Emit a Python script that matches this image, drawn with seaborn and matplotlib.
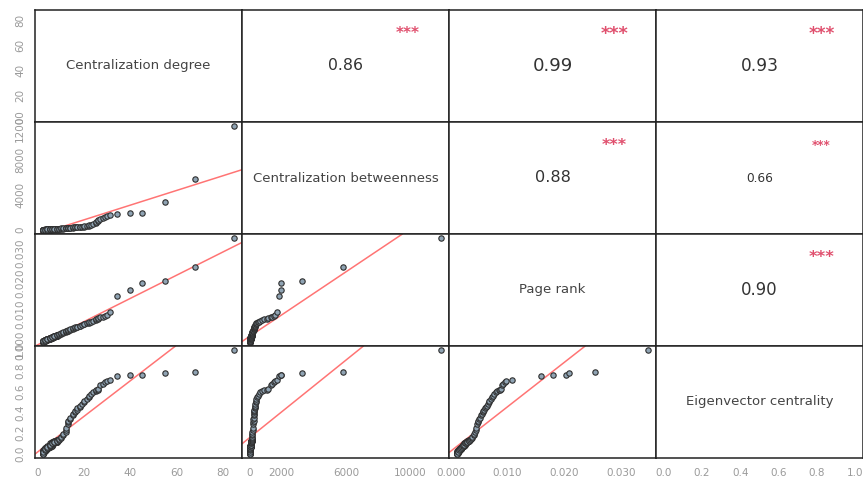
import numpy as np
import pandas as pd
import matplotlib
matplotlib.use('Agg')
import matplotlib.pyplot as plt
import seaborn as sns

# centrality measures per node
# the low degree nodes overlap in the dense blob near the origin
degree = ([2] * 14 + [3] * 14 + [4] * 12 + [5] * 12 + [6] * 10 + [7] * 9 + [8] * 9 +
          [2, 2, 3, 3, 4, 4, 5, 5, 5, 6, 6, 7, 7, 8, 8, 9, 9, 10, 10, 11, 11,
           12, 12, 12, 13, 13, 13, 14, 14, 15, 15, 16, 16, 17, 17, 18, 18, 19,
           20, 20, 21, 22, 22, 23, 24, 25, 25, 26, 26, 27, 28, 29, 30,
           31, 34, 40, 45, 55, 68, 85])
betweenness = [0, 5, 10, 0, 15, 20, 5, 30, 10, 0, 25, 12, 8, 18,
               10, 20, 35, 15, 25, 40, 5, 30, 45, 20, 12, 28, 38, 18,
               20, 35, 50, 25, 60, 40, 15, 55, 30, 45, 65, 38,
               30, 50, 70, 40, 85, 60, 25, 75, 45, 90, 55, 65,
               45, 65, 90, 55, 100, 75, 40, 85, 110, 60,
               60, 80, 105, 70, 120, 90, 55, 100, 130,
               75, 95, 120, 85, 140, 105, 70, 115, 150,
               10, 25, 15, 40, 30, 55, 45, 60, 80, 70, 95, 85, 110, 100, 125,
               120, 140, 135, 160, 150, 175, 170, 190, 210, 200, 225, 245, 235,
               260, 255, 280, 275, 300, 295, 320, 315, 340, 350, 370, 400, 420,
               470, 520, 580, 650, 760, 880, 1070, 1160, 1300, 1400, 1500, 1600,
               1700, 1830, 1940, 1960, 3260, 5850, 11950]
pagerank = [0.0010, 0.0011, 0.0012, 0.0010, 0.0011, 0.0013, 0.0012, 0.0013,
            0.0011, 0.0010, 0.0012, 0.0011, 0.0012, 0.0013,
            0.0014, 0.0015, 0.0016, 0.0014, 0.0015, 0.0016, 0.0014, 0.0015,
            0.0017, 0.0015, 0.0014, 0.0016, 0.0016, 0.0015,
            0.0017, 0.0018, 0.0019, 0.0017, 0.0019, 0.0018, 0.0017, 0.0019,
            0.0018, 0.0018, 0.0020, 0.0018,
            0.0020, 0.0021, 0.0022, 0.0020, 0.0023, 0.0021, 0.0020, 0.0022,
            0.0021, 0.0023, 0.0021, 0.0022,
            0.0023, 0.0024, 0.0025, 0.0023, 0.0026, 0.0024, 0.0023, 0.0025,
            0.0026, 0.0024,
            0.0026, 0.0027, 0.0028, 0.0026, 0.0029, 0.0027, 0.0026, 0.0028, 0.0029,
            0.0029, 0.0030, 0.0031, 0.0029, 0.0032, 0.0030, 0.0029, 0.0031, 0.0032,
            0.0010, 0.0013, 0.0014, 0.0016, 0.0018, 0.0019, 0.0021, 0.0022,
            0.0023, 0.0025, 0.0026, 0.0028, 0.0029, 0.0031, 0.0032, 0.0034,
            0.0035, 0.0037, 0.0038, 0.0040, 0.0041, 0.0043, 0.0044, 0.0045,
            0.0046, 0.0047, 0.0048, 0.0050, 0.0051, 0.0053, 0.0054, 0.0056,
            0.0057, 0.0059, 0.0060, 0.0062, 0.0063, 0.0065, 0.0067, 0.0068,
            0.0070, 0.0073, 0.0074, 0.0076, 0.0079, 0.0082, 0.0084, 0.0086,
            0.0088, 0.0090, 0.0092, 0.0095, 0.0098,
            0.0107, 0.0160, 0.0180, 0.0204, 0.0208, 0.0255, 0.0349]
eigenvector = [0.00, 0.01, 0.02, 0.01, 0.03, 0.02, 0.01, 0.04, 0.02, 0.00,
               0.03, 0.02, 0.01, 0.03,
               0.03, 0.04, 0.05, 0.03, 0.04, 0.06, 0.03, 0.05, 0.06, 0.04,
               0.03, 0.05, 0.06, 0.04,
               0.05, 0.06, 0.07, 0.05, 0.07, 0.06, 0.05, 0.07, 0.06, 0.06,
               0.08, 0.06,
               0.07, 0.08, 0.09, 0.07, 0.09, 0.08, 0.07, 0.09, 0.08, 0.10,
               0.08, 0.09,
               0.08, 0.09, 0.10, 0.09, 0.11, 0.10, 0.08, 0.10, 0.11, 0.09,
               0.10, 0.11, 0.11, 0.10, 0.12, 0.11, 0.10, 0.11, 0.12,
               0.11, 0.12, 0.13, 0.11, 0.13, 0.12, 0.11, 0.12, 0.13,
               0.00, 0.02, 0.04, 0.05, 0.06, 0.07, 0.08, 0.09, 0.09, 0.10,
               0.10, 0.11, 0.11, 0.12, 0.12, 0.13, 0.14, 0.15, 0.16, 0.18,
               0.19, 0.21, 0.23, 0.25, 0.29, 0.31, 0.32, 0.34, 0.35, 0.37,
               0.38, 0.40, 0.41, 0.42, 0.44, 0.45, 0.46, 0.48, 0.50, 0.51,
               0.53, 0.55, 0.56, 0.58, 0.60, 0.61, 0.62, 0.62, 0.63, 0.66,
               0.67, 0.69, 0.70,
               0.71, 0.755, 0.757, 0.76, 0.78, 0.79, 1.00]

labels = ['Centralization degree', 'Centralization betweenness',
          'Page rank', 'Eigenvector centrality']

# correlations shown in the upper panels (row, col) -> value
corr_vals = {(0, 1): 0.86, (0, 2): 0.99, (0, 3): 0.93,
             (1, 2): 0.88, (1, 3): 0.66, (2, 3): 0.90}

# tick positions and which ones get a label
xticks = [
    ([0, 20, 40, 60, 80], ['0', '20', '40', '60', '80']),
    ([0, 2000, 4000, 6000, 8000, 10000, 12000],
     ['0', '2000', '', '6000', '', '10000', '']),
    ([0, 0.005, 0.01, 0.015, 0.02, 0.025, 0.03],
     ['0.000', '', '0.010', '', '0.020', '', '0.030']),
    ([0, 0.2, 0.4, 0.6, 0.8, 1.0], ['0.0', '0.2', '0.4', '0.6', '0.8', '1.0']),
]
yticks = [
    ([0, 20, 40, 60, 80], ['0', '20', '40', '60', '80']),
    ([0, 2000, 4000, 6000, 8000, 10000, 12000],
     ['0', '', '4000', '', '8000', '', '12000']),
    ([0, 0.005, 0.01, 0.015, 0.02, 0.025, 0.03],
     ['0.000', '', '0.010', '', '0.020', '', '0.030']),
    ([0, 0.2, 0.4, 0.6, 0.8, 1.0], ['0.0', '0.2', '0.4', '0.6', '0.8', '1.0']),
]

df = pd.DataFrame({'deg': degree, 'btw': betweenness,
                   'pr': pagerank, 'eig': eigenvector})
cols = list(df.columns)

# R style 4% padding on every variable
lims = []
for c in cols:
    lo, hi = df[c].min(), df[c].max()
    pad = 0.04 * (hi - lo)
    lims.append((lo - pad, hi + pad))

sns.set_style('white')
plt.rcParams['font.family'] = ['DejaVu Sans']

fig, axes = plt.subplots(4, 4, figsize=(8.63, 4.78), dpi=100)
fig.subplots_adjust(left=35/863, right=1.0, top=1 - 10/478, bottom=1 - 458/478,
                    wspace=0, hspace=0)

for i in range(4):
    for j in range(4):
        ax = axes[i, j]
        ax.set_xlim(lims[j])
        ax.set_ylim(lims[i])
        for s in ax.spines.values():
            s.set_color('#222222')
            s.set_linewidth(1.1)

        if i > j:
            # scatter + least squares line
            x = df[cols[j]]
            y = df[cols[i]]
            sns.scatterplot(x=x, y=y, ax=ax, s=15, color='#8fa3b3',
                            edgecolor='#2f2f2f', linewidth=0.8, zorder=3)
            m, b = np.polyfit(x, y, 1)
            ax.axline((0, b), slope=m, color='#ff5c5c', lw=1.1, alpha=0.85,
                      zorder=2)
        elif i == j:
            ax.text(0.5, 0.5, labels[i], transform=ax.transAxes,
                    ha='center', va='center', fontsize=9.5, color='#444444')
        else:
            r = corr_vals[(i, j)]
            ax.text(0.5, 0.5, f'{r:.2f}', transform=ax.transAxes,
                    ha='center', va='center', fontsize=13.2 * r,
                    color='#333333')
            ax.text(0.8, 0.79, '***', transform=ax.transAxes,
                    ha='center', va='center', fontsize=13 * r,
                    color='#e0506e', fontweight='bold')

        ax.set_xlabel('')
        ax.set_ylabel('')

        # outer axes only: bottom row x, left column y
        if i == 3:
            ax.set_xticks(xticks[j][0])
            ax.set_xticklabels(xticks[j][1])
        else:
            ax.set_xticks([])
        if j == 0:
            ax.set_yticks(yticks[i][0])
            ax.set_yticklabels(yticks[i][1])
            for lbl in ax.get_yticklabels():
                lbl.set_rotation(90)
                lbl.set_va('center')
        else:
            ax.set_yticks([])
        ax.tick_params(direction='out', length=5, width=0.8, color='#555555',
                       labelsize=7.5, labelcolor='#9a9a9a', pad=2)

plt.savefig('out.png', dpi=100)
